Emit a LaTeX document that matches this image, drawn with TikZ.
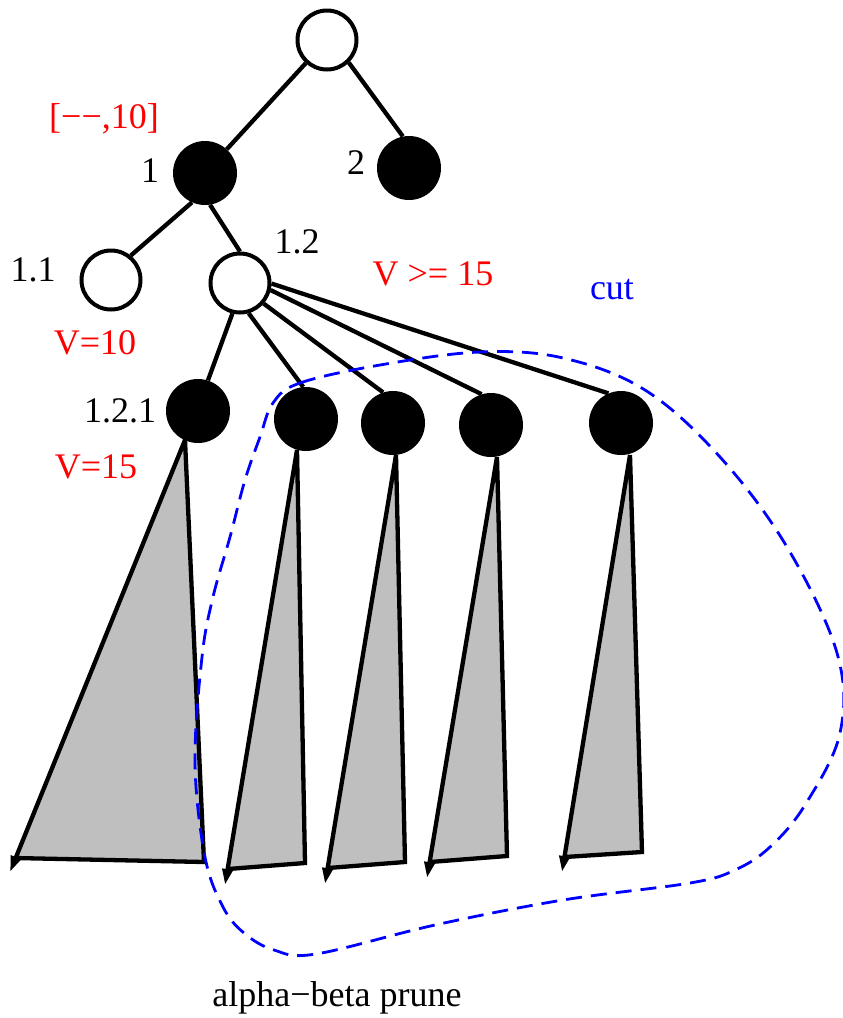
\documentclass[tikz,border=0pt]{standalone}
\usepackage{fontspec}
\setmainfont{Liberation Serif}
\usetikzlibrary{arrows.meta}
\definecolor{treegray}{RGB}{191,191,191}
\tikzset{
  wnode/.style={circle, draw, line width=4pt, fill=white, minimum size=59pt, inner sep=0pt},
  bnode/.style={circle, fill=black, minimum size=64pt, inner sep=0pt},
  lbl/.style={inner sep=0pt, font=\fontsize{36}{40}\selectfont},
  edge/.style={line width=4.3pt},
  subtree/.style={line width=4.3pt, fill=treegray, -{Triangle[length=16pt,width=10pt]}},
  cutline/.style={blue, line width=2.8pt, dash pattern=on 16pt off 9pt}
}
\begin{document}
\begin{tikzpicture}[x=1pt, y=-1pt]
  \useasboundingbox (0,0) rectangle (843,1018);

  \draw[subtree] (15,858) -- (204,862) -- (185,440) -- (10,872);
  \draw[subtree] (228,869) -- (305,863) -- (297,450) -- (225,885);
  \draw[subtree] (328,868) -- (405,862) -- (396,455) -- (325,884);
  \draw[subtree] (430,862) -- (507,856) -- (497,457) -- (427,878);
  \draw[subtree] (565,857) -- (642,852) -- (630,455) -- (562,872);

  \node[wnode] (root) at (327,40) {};
  \node[bnode] (n1) at (205,173) {};
  \node[bnode] (n2) at (409,168) {};
  \node[wnode] (n11) at (111,280) {};
  \node[wnode] (n12) at (240,283) {};
  \node[bnode] (n121) at (198,411) {};
  \node[bnode] (n122) at (306,419) {};
  \node[bnode] (n123) at (393,423) {};
  \node[bnode] (n124) at (491,425) {};
  \node[bnode] (n125) at (621,423) {};

  \draw[edge] (root) -- (n1);
  \draw[edge] (root.-46) -- (n2.101);
  \draw[edge] (n1.-114) -- (n11.51);
  \draw[edge] (n1.-81) -- (n12.90);
  \draw[edge] (n12.-104) -- (n121.72);
  \draw[edge] (n12.-74) -- (n122.95);
  \draw[edge] (n12.-41) -- (n123.108);
  \draw[edge] (n12.-13) -- (n124.107);
  \draw[edge] (n12.-1) -- (n125.113);

  \node[lbl, red] (bound) at (104,119) {[−−,10]};
  \node[lbl] (lab1) at (150,171) {1};
  \node[lbl] (lab2) at (356,163) {2};
  \node[lbl] (lab11) at (33,270) {1.1};
  \node[lbl] (lab12) at (297,242) {1.2};
  \node[lbl, red] (vge) at (433,274) {V >= 15};
  \node[lbl, blue] (cut) at (612,290) {cut};
  \node[lbl, red] (v10) at (95,343) {V=10};
  \node[lbl] (lab121) at (120,411) {1.2.1};
  \node[lbl, red] (v15) at (96,467) {V=15};
  \node[lbl] (title) at (337,998) {alpha−beta prune};

  \draw[cutline] plot[smooth cycle, tension=0.6] coordinates {
    (273,403) (300,383) (380,365) (480,352) (563,358) (645,390)
    (720,457) (787,547) (837,653) (840,733) (805,805) (770,847)
    (735,870) (690,883) (563,900) (435,925) (316,954) (274,950)
    (244,933) (223,907) (205,857) (195,763) (202,657) (213,597)
    (230,537) (245,480) (260,437)};
\end{tikzpicture}
\end{document}
